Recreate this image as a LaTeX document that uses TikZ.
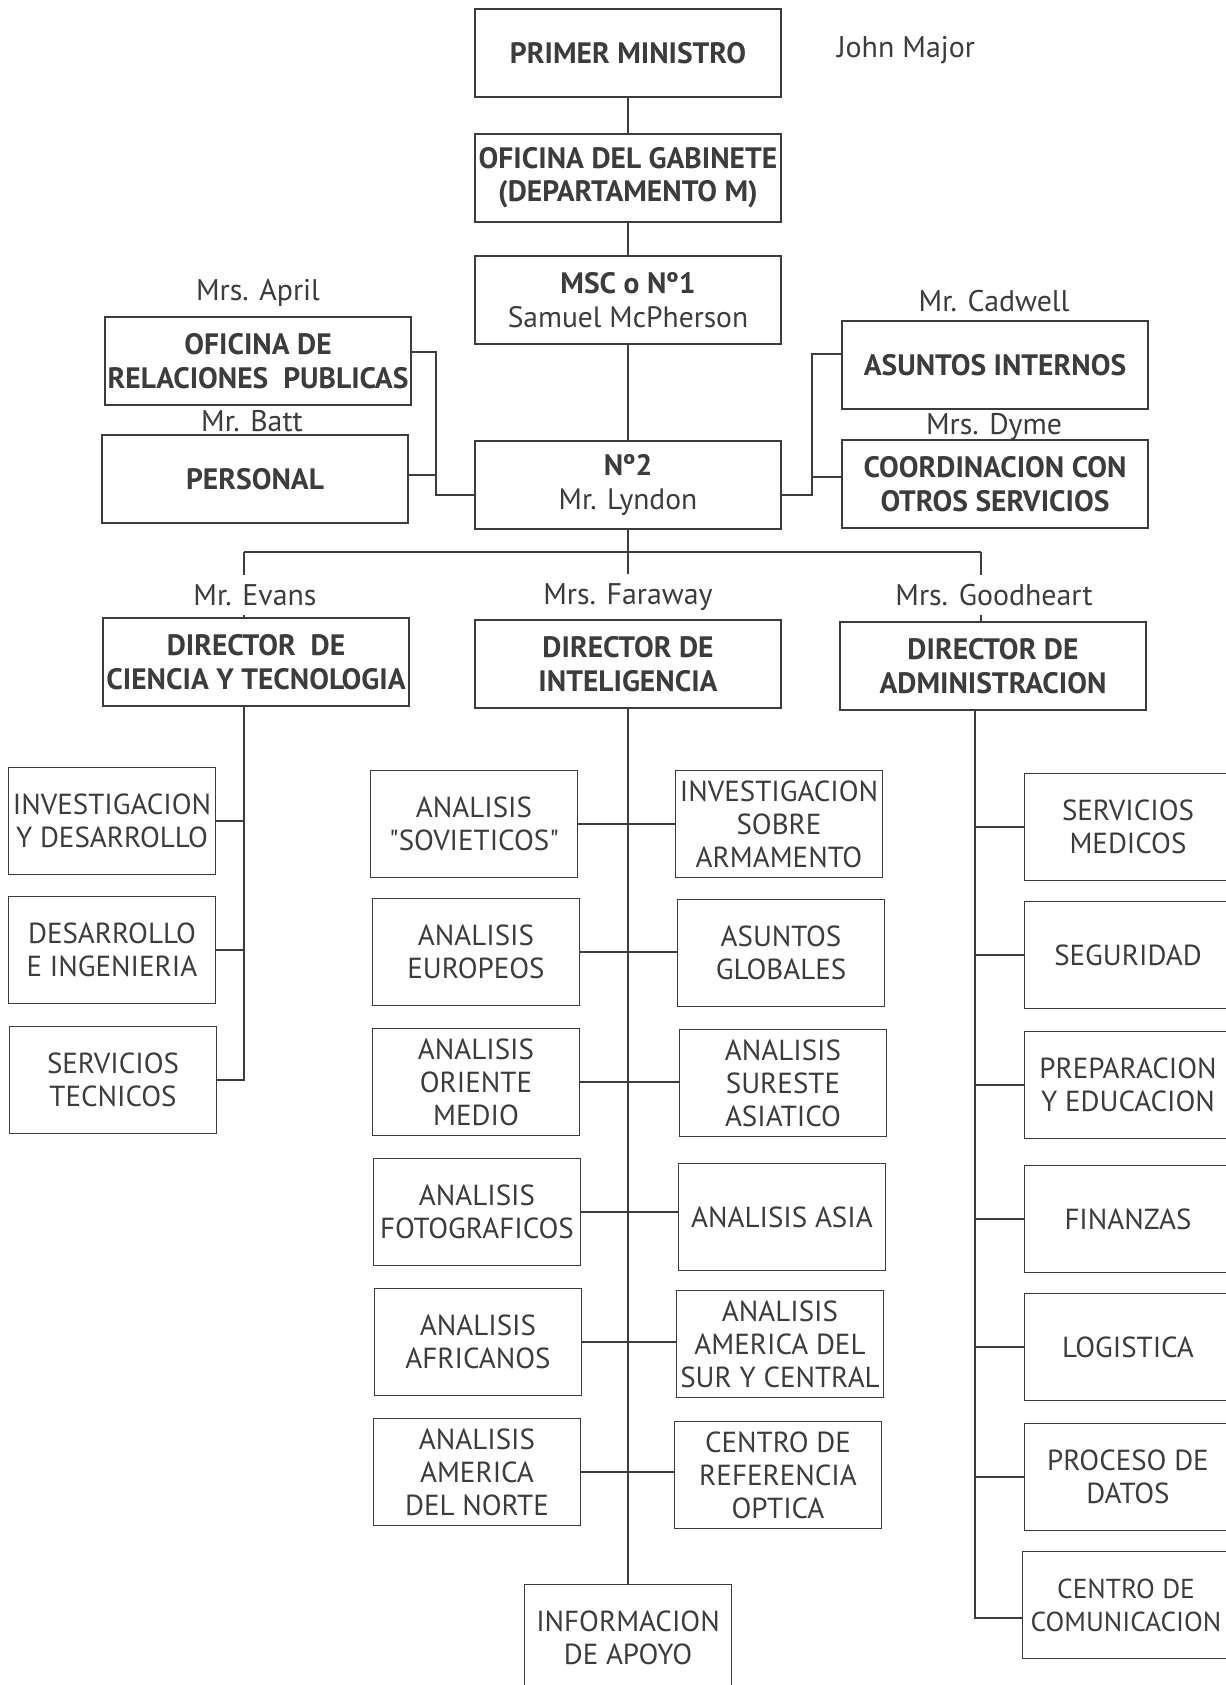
\documentclass[tikz,border=0pt]{standalone}
\usepackage{fontspec}
\setmainfont{PT Sans}
\usepackage{xcolor}
\definecolor{ink}{RGB}{60,60,60}
\newcommand{\dq}{\XeTeXglyph\XeTeXcharglyph"22\relax}
\tikzset{
  topbox/.style={draw=ink, line width=1.1pt, text=ink, align=center, inner sep=1pt,
    minimum width=6.12cm, minimum height=1.76cm, font=\bfseries\fontsize{16.8}{19}\selectfont},
  subbox/.style={draw=ink, line width=1.1pt, text=ink, align=center, inner sep=1pt,
    minimum width=4.14cm, minimum height=2.14cm, font=\fontsize{16.5}{18.8}\selectfont},
  who/.style={text=ink, inner sep=5pt, font=\fontsize{17}{19}\selectfont},
  link/.style={draw=ink, line width=1pt}
}

\begin{document}
\begin{tikzpicture}[x=0.02cm,y=-0.02cm]
   \useasboundingbox (0,0) rectangle (1225,1685);
   % cabeza
   \node[topbox] (pm) at (628,53) {PRIMER MINISTRO};
   \node[who] (john) at (906,50) {John Major};
   \node[topbox] (gab) at (628,178) {OFICINA DEL GABINETE\\(DEPARTAMENTO M)};
   \node[topbox] (msc) at (628,300) {MSC o Nº1\\\mdseries Samuel McPherson};
   \node[topbox] (n2) at (628,485) {Nº2\\\mdseries Mr. Lyndon};
   % a los lados del Nº2
   \node[topbox] (rel) at (258,361) {OFICINA DE\\RELACIONES\ \ PUBLICAS};
   \node[who] (april) at (258,293) {Mrs. April};
   \node[topbox] (per) at (255,479) {PERSONAL};
   \node[who] (batt) at (252,421) {Mr. Batt};
   \node[topbox] (asu) at (995,365) {ASUNTOS INTERNOS};
   \node[who] (cadwell) at (994,301) {Mr. Cadwell};
   \node[topbox] (coo) at (995,484) {COORDINACION CON\\OTROS SERVICIOS};
   \node[who] (dyme) at (994,427) {Mrs. Dyme};
   % directores
   \node[topbox] (dct) at (256,662) {DIRECTOR\ \ DE\\CIENCIA Y TECNOLOGIA};
   \node[who] (evans) at (255,595) {Mr. Evans};
   \node[topbox] (din) at (628,664) {DIRECTOR DE\\INTELIGENCIA};
   \node[who] (faraway) at (628,597) {Mrs. Faraway};
   \node[topbox] (dad) at (993,666) {DIRECTOR DE\\ADMINISTRACION};
   \node[who] (goodheart) at (994,595) {Mrs. Goodheart};
   % ciencia y tecnologia
   \node[subbox] (inv) at (112,821) {INVESTIGACION\\Y DESARROLLO};
   \node[subbox] (des) at (112,950) {DESARROLLO\\E INGENIERIA};
   \node[subbox] (ser) at (113,1080) {SERVICIOS\\TECNICOS};
   % inteligencia
   \node[subbox] (sov) at (474,824) {ANALISIS\\\dq SOVIETICOS\dq};
   \node[subbox] (arm) at (779,824) {INVESTIGACION\\SOBRE\\ARMAMENTO};
   \node[subbox] (eur) at (476,952) {ANALISIS\\EUROPEOS};
   \node[subbox] (glo) at (781,953) {ASUNTOS\\GLOBALES};
   \node[subbox] (ori) at (476,1082) {ANALISIS\\ORIENTE\\MEDIO};
   \node[subbox] (ase) at (783,1083) {ANALISIS\\SURESTE\\ASIATICO};
   \node[subbox] (fot) at (477,1212) {ANALISIS\\FOTOGRAFICOS};
   \node[subbox] (asi) at (782,1217) {ANALISIS ASIA};
   \node[subbox] (afr) at (478,1342) {ANALISIS\\AFRICANOS};
   \node[subbox] (ams) at (780,1344) {ANALISIS\\AMERICA DEL\\SUR Y CENTRAL};
   \node[subbox] (amn) at (477,1472) {ANALISIS\\AMERICA\\DEL NORTE};
   \node[subbox] (cro) at (778,1475) {CENTRO DE\\REFERENCIA\\OPTICA};
   \node[subbox] (apo) at (628,1638) {INFORMACION\\DE APOYO};
   % administracion
   \node[subbox] (med) at (1128,827) {SERVICIOS\\MEDICOS};
   \node[subbox] (seg) at (1128,955) {SEGURIDAD};
   \node[subbox] (pre) at (1128,1085) {PREPARACION\\Y EDUCACION};
   \node[subbox] (fin) at (1128,1219) {FINANZAS};
   \node[subbox] (log) at (1128,1347) {LOGISTICA};
   \node[subbox] (pro) at (1128,1477) {PROCESO DE\\DATOS};
   \node[subbox, font=\fontsize{15.6}{18.8}\selectfont] (com) at (1126,1605) {CENTRO DE\\COMUNICACION};

   \coordinate (busL) at (244,552);
   \coordinate (busR) at (981,552);
   \coordinate (relJ) at (436,0);
   \coordinate (asuJ) at (812,0);
   \coordinate (adT) at (975,0);
   \coordinate (relE) at ([yshift=0.18cm]rel.east);
   \coordinate (perE) at ([yshift=0.08cm]per.east);
   \coordinate (n2W) at ([yshift=-0.2cm]n2.west);
   \coordinate (n2E) at ([yshift=-0.2cm]n2.east);
   \coordinate (asuW) at ([yshift=0.22cm]asu.west);
   \coordinate (cooW) at ([yshift=0.14cm]coo.west);
   \coordinate (comW) at ([yshift=-0.26cm]com.west);

   \draw[link] (pm) -- (gab);
   \draw[link] (gab) -- (msc);
   \draw[link] (msc) -- (n2);
   \draw[link] (relE) -| (relJ |- n2W) -- (n2W);
   \draw[link] (perE) -- (relJ |- perE);
   \draw[link] (n2E) -| (asuJ |- asuW) -- (asuW);
   \draw[link] (cooW) -- (asuJ |- cooW);
   \draw[link] (n2) -- (n2.south |- busL);
   \draw[link] (busL) -- (busR);
   \draw[link] (busL) -- (evans.north -| busL);
   \draw[link] (evans.south -| busL) -- (dct.north -| busL);
   \draw[link] (n2.south |- busL) -- (faraway);
   \draw[link] (faraway) -- (din);
   \draw[link] (busR) -- (goodheart.north -| busR);
   \draw[link] (goodheart.south -| busR) -- (dad.north -| busR);
   % ramas
   \draw[link] (dct.south -| busL) |- (ser.east);
   \draw[link] (inv.east) -- (inv.east -| busL);
   \draw[link] (des.east) -- (des.east -| busL);
   \draw[link] (din) -- (apo);
   \draw[link] (sov.east) -- (sov.east -| arm.west);
   \draw[link] (eur.east) -- (eur.east -| glo.west);
   \draw[link] (ori.east) -- (ori.east -| ase.west);
   \draw[link] (fot.east) -- (fot.east -| asi.west);
   \draw[link] (afr.east) -- (afr.east -| ams.west);
   \draw[link] (amn.east) -- (amn.east -| cro.west);
   \draw[link] (adT |- dad.south) -- (adT |- comW) -- (comW);
   \draw[link] (med.west) -- (adT |- med.west);
   \draw[link] (seg.west) -- (adT |- seg.west);
   \draw[link] (pre.west) -- (adT |- pre.west);
   \draw[link] (fin.west) -- (adT |- fin.west);
   \draw[link] (log.west) -- (adT |- log.west);
   \draw[link] (pro.west) -- (adT |- pro.west);
\end{tikzpicture}
\end{document}
